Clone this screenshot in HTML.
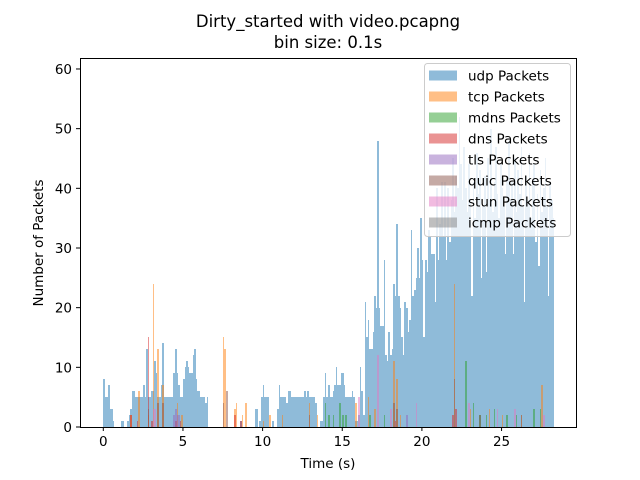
<!DOCTYPE html>
<html><head><meta charset="utf-8"><style>
html,body{margin:0;padding:0;background:#fff;}
svg{display:block;font-family:"DejaVu Sans","Liberation Sans",sans-serif;}
</style></head><body>
<svg id="chart" width="640" height="480" viewBox="0 0 640 480" xmlns="http://www.w3.org/2000/svg">
<rect x="0" y="0" width="640" height="480" fill="#fff"/>
<text x="328" y="27" text-anchor="middle" font-size="16.5">Dirty_started with video.pcapng</text>
<text x="328" y="48" text-anchor="middle" font-size="16.5">bin size: 0.1s</text>
<g id="bars" shape-rendering="crispEdges"></g>
<rect x="80.5" y="58.5" width="496" height="369" fill="none" stroke="#000" stroke-width="1"/>
<g id="axes"></g>
<text x="328" y="468" text-anchor="middle" font-size="13.5">Time (s)</text>
<text transform="translate(43,243) rotate(-90)" text-anchor="middle" font-size="13.5">Number of Packets</text>
<g id="legend"></g>
</svg>
<script>
const binSize = 0.1;
const udpCounts = [
8,5,5,7,3,3,1,0,0,0,
0,1,1,0,0,1,2,3,6,6,
5,5,5,5,5,7,5,13,5,5,
6,6,11,9,5,5,7,14,5,5,
5,5,5,5,9,13,9,7,5,5,
8,10,11,10,9,9,12,13,8,6,
6,5,5,5,4,5,0,0,0,0,
0,0,0,0,0,0,0,0,0,0,
0,0,0,0,0,0,1,0,0,0,
0,0,0,0,0,3,3,0,1,5,
7,5,5,5,0,0,1,0,0,3,
7,5,5,5,5,4,6,6,5,5,
5,5,5,5,5,5,6,5,6,5,
5,5,5,4,0,0,1,1,5,9,
5,7,5,5,6,7,10,7,7,9,
9,7,5,5,5,5,6,5,1,1,
2,10,6,2,21,15,18,13,13,16,
22,20,48,20,17,17,28,12,11,16,
12,13,24,22,34,22,20,15,12,21,
20,16,18,33,22,23,25,30,25,35,
28,15,28,26,33,32,29,29,21,40,
28,34,41,32,41,28,40,31,38,45,
36,42,40,52,44,38,47,40,36,44,
38,22,41,35,46,39,43,25,37,42,
26,45,38,50,36,41,47,39,35,44,
40,37,29,42,48,38,41,29,45,36,
43,39,47,37,21,42,38,46,35,41,
44,31,39,27,43,36,40,45,37,22,
41,38,35
];
const tcpBins = [17,22,28,31,34,37,46,49,75,76,82,83,87,89,100,104,112,129,134,158,166,170,182,184,186,220,230,242,250,262,275];
const tcpCounts = [2,6,2,24,13,7,4,2,15,13,3,4,2,4,1,2,2,4,2,4,5,3,11,8,2,24,3,3,2,2,7];
const mdnsBins = [139,141,144,148,150,152,167,176,227,232,236,240,245,253,259,270,274];
const mdnsCounts = [4,2,2,4,2,2,2,2,11,4,2,2,3,2,2,3,3];
const dnsBins = [17,21,28,30,45,48,82,86,183,219,221];
const dnsCounts = [2,1,15,1,1,1,2,1,1,2,3];
const tlsBins = [44,45,46,47,190];
const tlsCounts = [2,3,2,2,2];
const quicBins = [28,34,37,75,77,129,182,184,220,236,262];
const quicCounts = [3,4,4,4,6,2,4,3,8,2,2];
const stunBins = [31,32,160,172,180,196,229,247,258,276];
const stunCounts = [3,3,5,12,3,4,4,3,3,2];
const icmpBins = [];
const icmpCounts = [];
const xTicks = [0,5,10,15,20,25];
const yTicks = [0,10,20,30,40,50,60];
const legendLabels = ["udp Packets","tcp Packets","mdns Packets","dns Packets","tls Packets","quic Packets","stun Packets","icmp Packets"];
const colors = ["#1f77b4","#ff7f0e","#2ca02c","#d62728","#9467bd","#8c564b","#e377c2","#7f7f7f"];

const NS = "http://www.w3.org/2000/svg";
function xScale(t){ return 103.3 + t*15.93; }
function yScale(v){ return 427 - v*5.967; }
const barsG = document.getElementById("bars");
function drawBar(bin, val, color, series){
  if(!val) return;
  const x0 = Math.round(xScale(bin*binSize)), x1 = Math.round(xScale((bin+1)*binSize));
  const y0 = Math.round(yScale(val));
  const r = document.createElementNS(NS,"rect");
  
  
  r.setAttribute("x", x0);
  r.setAttribute("y", y0);
  r.setAttribute("width", Math.max(1, x1-x0));
  r.setAttribute("height", 427-y0);
  r.setAttribute("fill", color);
  r.setAttribute("fill-opacity", "0.5");
  barsG.appendChild(r);
}
udpCounts.forEach((v,i)=>drawBar(i,v,colors[0],"udp"));
const sparse = [[tcpBins,tcpCounts,"tcp"],[mdnsBins,mdnsCounts,"mdns"],[dnsBins,dnsCounts,"dns"],[tlsBins,tlsCounts,"tls"],[quicBins,quicCounts,"quic"],[stunBins,stunCounts,"stun"],[icmpBins,icmpCounts,"icmp"]];
sparse.forEach((s,k)=>{ s[0].forEach((b,i)=>drawBar(b,s[1][i],colors[k+1],s[2])); });

const axes = document.getElementById("axes");
xTicks.forEach(t=>{
  const x = xScale(t);
  const l = document.createElementNS(NS,"line");
  
  
  l.setAttribute("x1",x);l.setAttribute("x2",x);l.setAttribute("y1",427);l.setAttribute("y2",431);l.setAttribute("stroke","#000");
  axes.appendChild(l);
  const tx = document.createElementNS(NS,"text");
  
  
  tx.setAttribute("x",x);tx.setAttribute("y",446);tx.setAttribute("text-anchor","middle");tx.setAttribute("font-size","13.5");
  tx.textContent = t; axes.appendChild(tx);
});
yTicks.forEach(v=>{
  const y = yScale(v);
  const l = document.createElementNS(NS,"line");
  
  
  l.setAttribute("x1",76);l.setAttribute("x2",80);l.setAttribute("y1",y);l.setAttribute("y2",y);l.setAttribute("stroke","#000");
  axes.appendChild(l);
  const tx = document.createElementNS(NS,"text");
  
  
  tx.setAttribute("x",72);tx.setAttribute("y",y+5);tx.setAttribute("text-anchor","end");tx.setAttribute("font-size","13.5");
  tx.textContent = v; axes.appendChild(tx);
});

const lg = document.getElementById("legend");
const box = document.createElementNS(NS,"rect");


box.setAttribute("x",424.5);box.setAttribute("y",63.5);box.setAttribute("width",146);box.setAttribute("height",173);box.setAttribute("rx",3);
box.setAttribute("fill","#fff");box.setAttribute("fill-opacity","0.8");box.setAttribute("stroke","#ccc");
lg.appendChild(box);
legendLabels.forEach((lab,i)=>{
  const y = 75.5 + i*21;
  const sw = document.createElementNS(NS,"rect");
  
  
  sw.setAttribute("x",429);sw.setAttribute("y",y-5);sw.setAttribute("width",28);sw.setAttribute("height",10);
  sw.setAttribute("fill",colors[i]);sw.setAttribute("fill-opacity","0.5");
  lg.appendChild(sw);
  const tx = document.createElementNS(NS,"text");
  
  
  tx.setAttribute("x",468);tx.setAttribute("y",y+5);tx.setAttribute("font-size","13.5");
  tx.textContent = lab; lg.appendChild(tx);
});
</script>
</body></html>
